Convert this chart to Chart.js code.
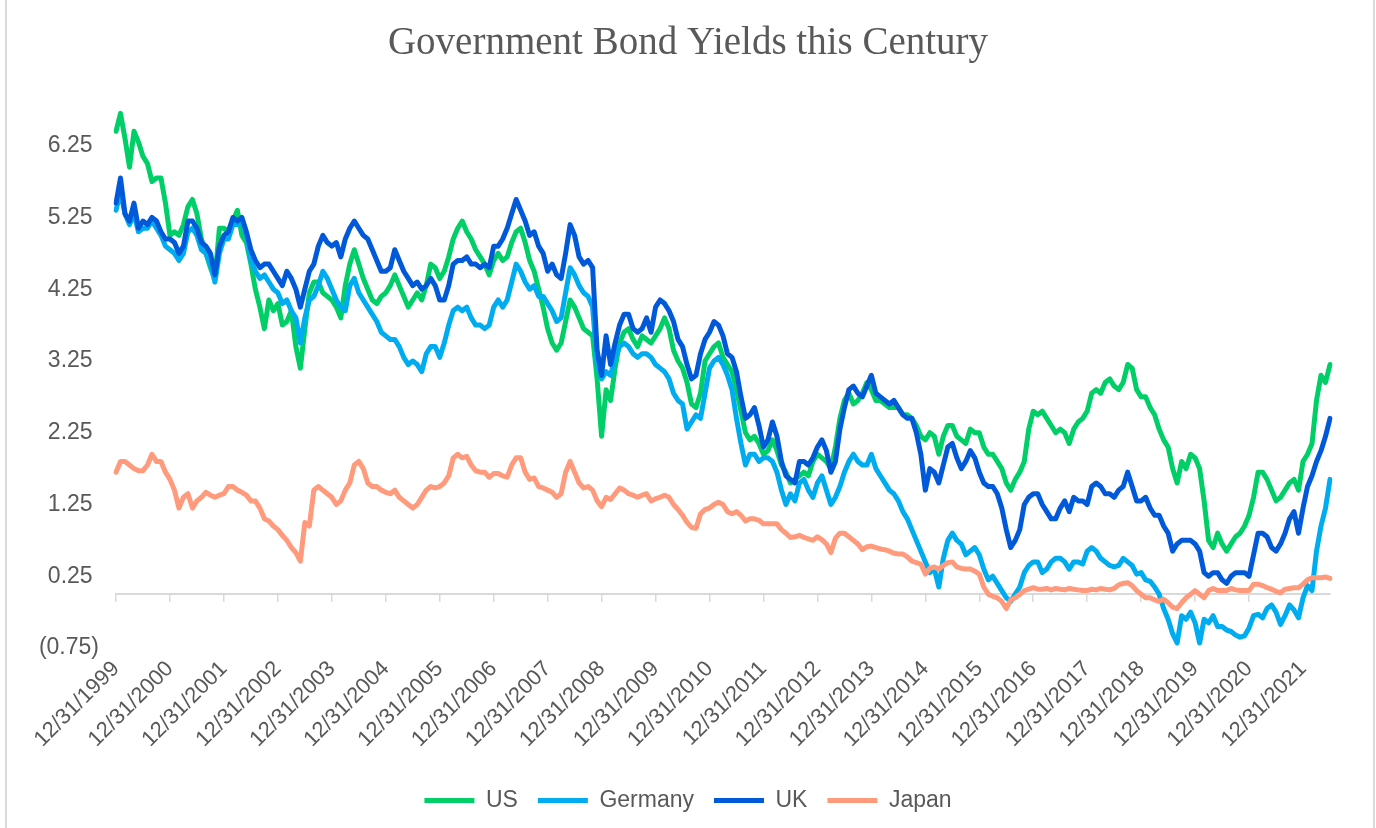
<!DOCTYPE html>
<html lang="en">
<head>
    <meta charset="UTF-8">
    <title>Government Bond Yields this Century</title>
    <style>
        body { margin: 0; background: #fff; }
        #wrap { position: relative; width: 1376px; height: 828px; }
        .edge { position: absolute; top: 0; bottom: 0; width: 2px; background: #d9d9d9; }
    </style>
</head>
<body>
<div id="wrap">
    <canvas id="myChart"></canvas>
    <div class="edge" style="left:5px"></div>
    <div class="edge" style="right:1px"></div>
</div>
<script src="https://cdn.jsdelivr.net/npm/chart.js"></script>
<script>
    // month-end values, 12/31/1999 .. 6/30/2022
    const us = [
        6.45, 6.7, 6.35, 5.95, 6.45, 6.3, 6.1, 6.0, 5.75, 5.8,
        5.8, 5.45, 5.0, 5.05, 5.0, 5.15, 5.4, 5.5, 5.3, 4.95,
        4.75, 4.55, 4.4, 5.1, 5.1, 5.05, 5.2, 5.35, 5.0, 4.9,
        4.6, 4.25, 4.0, 3.7, 4.1, 3.95, 4.05, 3.75, 3.8, 3.95,
        3.45, 3.15, 3.7, 4.2, 4.35, 4.35, 4.2, 4.15, 4.1, 4.0,
        3.85, 4.3, 4.6, 4.8, 4.6, 4.4, 4.25, 4.1, 4.05, 4.15,
        4.2, 4.3, 4.45, 4.3, 4.15, 4.0, 4.1, 4.2, 4.1, 4.3,
        4.6, 4.55, 4.4, 4.5, 4.7, 4.95, 5.1, 5.2, 5.05, 4.95,
        4.8, 4.7, 4.6, 4.45, 4.65, 4.75, 4.65, 4.7, 4.9, 5.05,
        5.1, 4.9, 4.65, 4.5, 4.25, 4.0, 3.7, 3.5, 3.4, 3.5,
        3.8, 4.1, 4.0, 3.85, 3.7, 3.65, 3.6, 3.0, 2.2, 2.85,
        2.7, 3.15, 3.5, 3.65, 3.7, 3.55, 3.45, 3.6, 3.55, 3.5,
        3.6, 3.7, 3.85, 3.7, 3.4, 3.25, 3.15, 2.95, 2.65, 2.6,
        2.8, 3.25, 3.35, 3.45, 3.5, 3.3, 3.2, 3.1, 2.85, 2.55,
        2.25, 2.15, 2.2, 2.1, 1.95, 2.0, 2.15, 2.0, 1.8, 1.7,
        1.55, 1.6, 1.65, 1.7, 1.65, 1.85, 1.95, 1.9, 1.85, 1.75,
        2.05, 2.45, 2.7, 2.8, 2.65, 2.7, 2.8, 2.95, 2.85, 2.7,
        2.7, 2.65, 2.6, 2.6, 2.6, 2.5, 2.5, 2.45, 2.35, 2.2,
        2.15, 2.25, 2.2, 1.95, 2.2, 2.35, 2.35, 2.2, 2.15, 2.1,
        2.3, 2.25, 2.25, 2.05, 1.95, 1.95, 1.85, 1.75, 1.55, 1.45,
        1.6, 1.7, 1.85, 2.3, 2.55, 2.5, 2.55, 2.45, 2.35, 2.25,
        2.3, 2.25, 2.1, 2.3, 2.4, 2.45, 2.55, 2.8, 2.85, 2.8,
        2.95, 3.0, 2.9, 2.85, 2.95, 3.2, 3.15, 2.85, 2.75, 2.75,
        2.6, 2.5, 2.3, 2.15, 2.05, 1.75, 1.55, 1.85, 1.75, 1.95,
        1.9, 1.75, 1.3, 0.75, 0.65, 0.85, 0.7, 0.6, 0.7, 0.8,
        0.85, 0.95, 1.1, 1.35, 1.7, 1.7, 1.6, 1.45, 1.3, 1.35,
        1.45, 1.55, 1.6, 1.45, 1.85, 1.95, 2.1, 2.7, 3.05, 2.95, 3.2
    ];
    const germany = [
        5.35, 5.6, 5.3, 5.15, 5.3, 5.05, 5.1, 5.1, 5.2, 5.1,
        5.0, 4.85, 4.8, 4.75, 4.65, 4.75, 5.05, 5.1, 5.0, 4.8,
        4.75, 4.6, 4.35, 4.75, 4.95, 4.95, 5.15, 5.15, 5.2, 5.0,
        4.65, 4.5, 4.4, 4.45, 4.35, 4.25, 4.2, 4.05, 4.1, 3.95,
        3.85, 3.5, 3.85, 4.1, 4.15, 4.3, 4.5, 4.4, 4.25, 4.1,
        4.0, 3.95, 4.3, 4.4, 4.2, 4.1, 4.0, 3.9, 3.8, 3.65,
        3.6, 3.55, 3.55, 3.45, 3.3, 3.2, 3.25, 3.2, 3.1, 3.35,
        3.45, 3.45, 3.3, 3.5, 3.75, 3.95, 4.0, 3.95, 4.0, 3.85,
        3.75, 3.75, 3.7, 3.75, 4.0, 4.1, 4.0, 4.1, 4.35, 4.6,
        4.5, 4.35, 4.25, 4.3, 4.15, 4.15, 4.05, 3.95, 3.8, 3.85,
        4.2, 4.55, 4.45, 4.3, 4.2, 4.15, 4.0, 3.2, 3.0, 3.1,
        3.05, 3.3, 3.45, 3.5, 3.45, 3.35, 3.3, 3.35, 3.35, 3.3,
        3.2, 3.15, 3.1, 3.0, 2.8, 2.7, 2.65, 2.3, 2.4, 2.5,
        2.45, 2.8, 3.15, 3.25, 3.3, 3.2, 3.05, 2.85, 2.45, 2.1,
        1.8, 1.95, 1.95, 1.85, 1.9, 1.9, 1.85, 1.7, 1.45, 1.25,
        1.4, 1.3, 1.55, 1.6, 1.45, 1.35, 1.55, 1.65, 1.45, 1.25,
        1.35, 1.5, 1.7, 1.85, 1.95, 1.85, 1.8, 1.8, 1.95, 1.75,
        1.65, 1.55, 1.45, 1.4, 1.3, 1.15, 1.05, 0.9, 0.75, 0.6,
        0.45, 0.3, 0.35, 0.1, 0.5, 0.75, 0.85, 0.75, 0.7, 0.55,
        0.6, 0.65, 0.55, 0.35, 0.2, 0.25, 0.15, 0.05, -0.05, -0.1,
        0.0, 0.1, 0.3, 0.4, 0.45, 0.45, 0.3, 0.35, 0.45, 0.5,
        0.5, 0.45, 0.35, 0.45, 0.45, 0.42, 0.6, 0.65, 0.6, 0.5,
        0.45, 0.4, 0.38, 0.4, 0.5, 0.45, 0.4, 0.28, 0.3, 0.2,
        0.18, 0.1, 0.0, -0.2, -0.35, -0.55, -0.68, -0.3, -0.35, -0.25,
        -0.4, -0.68, -0.35, -0.4, -0.3, -0.45, -0.45, -0.5, -0.52, -0.57,
        -0.6, -0.58, -0.47, -0.3, -0.28, -0.33, -0.2, -0.15, -0.25, -0.42,
        -0.3, -0.15, -0.22, -0.33, -0.05, 0.12, 0.05, 0.6, 0.95, 1.2, 1.6
    ];
    const uk = [
        5.45, 5.8, 5.3, 5.2, 5.45, 5.1, 5.2, 5.15, 5.25, 5.2,
        5.05, 4.95, 4.95, 4.9, 4.75, 4.85, 5.2, 5.2, 5.1, 4.9,
        4.85, 4.75, 4.45, 4.85, 5.0, 5.05, 5.25, 5.2, 5.25, 5.05,
        4.8, 4.65, 4.55, 4.6, 4.6, 4.5, 4.4, 4.3, 4.5, 4.4,
        4.25, 4.0, 4.25, 4.5, 4.6, 4.85, 5.0, 4.9, 4.85, 4.9,
        4.7, 4.95, 5.1, 5.2, 5.1, 5.0, 4.95, 4.8, 4.65, 4.5,
        4.5, 4.55, 4.8, 4.65, 4.5, 4.4, 4.3, 4.35, 4.25, 4.3,
        4.4, 4.3, 4.1, 4.1, 4.3, 4.6, 4.65, 4.65, 4.7, 4.6,
        4.6, 4.55, 4.6, 4.55, 4.85, 4.85, 4.95, 5.1, 5.3, 5.5,
        5.35, 5.2, 5.0, 5.05, 4.85, 4.75, 4.5, 4.6, 4.45, 4.4,
        4.75, 5.15, 5.0, 4.7, 4.6, 4.65, 4.55, 3.4, 3.05, 3.6,
        3.2, 3.5, 3.75, 3.9, 3.9, 3.7, 3.65, 3.7, 3.85, 3.65,
        4.0, 4.1, 4.05, 3.95, 3.8, 3.55, 3.45, 3.2, 3.0, 3.05,
        3.35, 3.55, 3.65, 3.8, 3.75, 3.6, 3.35, 3.3, 3.1, 2.75,
        2.45, 2.5, 2.6, 2.35, 2.05, 2.15, 2.4, 2.2, 1.85, 1.65,
        1.6, 1.55, 1.85, 1.85, 1.8, 1.9, 2.05, 2.15, 2.0, 1.7,
        1.85, 2.3, 2.6, 2.85, 2.9, 2.8, 2.75, 2.9, 3.05, 2.8,
        2.75, 2.7, 2.65, 2.7, 2.6, 2.5, 2.45, 2.45, 2.25, 1.95,
        1.45, 1.75, 1.7, 1.55, 1.8, 2.05, 2.1, 1.9, 1.75, 1.85,
        2.0, 1.9, 1.7, 1.55, 1.5, 1.5, 1.4, 1.2, 0.9, 0.65,
        0.75, 0.9, 1.25, 1.35, 1.4, 1.4, 1.25, 1.15, 1.05, 1.05,
        1.2, 1.3, 1.15, 1.35, 1.3, 1.3, 1.25, 1.5, 1.55, 1.5,
        1.4, 1.4, 1.35, 1.45, 1.5, 1.7, 1.5, 1.3, 1.3, 1.35,
        1.2, 1.1, 1.1, 0.95, 0.85, 0.6, 0.7, 0.75, 0.75, 0.75,
        0.7, 0.6, 0.3, 0.25, 0.3, 0.3, 0.2, 0.15, 0.25, 0.3,
        0.3, 0.3, 0.25, 0.55, 0.85, 0.85, 0.8, 0.65, 0.6, 0.7,
        0.85, 1.05, 1.15, 0.85, 1.2, 1.5, 1.65, 1.85, 2.0, 2.2, 2.45
    ];
    const japan = [
        1.7, 1.85, 1.85, 1.8, 1.75, 1.72, 1.72, 1.8, 1.95, 1.85,
        1.85, 1.7, 1.6, 1.45, 1.2, 1.35, 1.4, 1.2, 1.3, 1.35,
        1.42, 1.38, 1.35, 1.38, 1.4, 1.5, 1.5, 1.45, 1.42, 1.38,
        1.3, 1.3, 1.2, 1.05, 1.02, 0.95, 0.9, 0.82, 0.75, 0.65,
        0.58, 0.46, 1.0, 0.95, 1.45, 1.5, 1.45, 1.4, 1.35, 1.25,
        1.3, 1.45, 1.55, 1.8, 1.85, 1.75, 1.55, 1.5, 1.5, 1.45,
        1.42, 1.4, 1.45, 1.35, 1.3, 1.25, 1.2, 1.25, 1.35, 1.45,
        1.5, 1.48, 1.5, 1.55, 1.65, 1.9, 1.95, 1.9, 1.92, 1.8,
        1.72, 1.7, 1.7, 1.63, 1.68, 1.68, 1.65, 1.63, 1.8, 1.9,
        1.9, 1.7, 1.6, 1.62, 1.5, 1.48, 1.45, 1.42, 1.35, 1.4,
        1.7, 1.85, 1.7, 1.55, 1.48, 1.5, 1.45, 1.3, 1.22, 1.35,
        1.32, 1.4, 1.48, 1.45, 1.4, 1.38, 1.35, 1.38, 1.4, 1.3,
        1.33, 1.35, 1.38, 1.35, 1.25, 1.18, 1.1, 1.0, 0.93, 0.92,
        1.12, 1.18, 1.2, 1.25, 1.28, 1.25, 1.15, 1.12, 1.15, 1.1,
        1.02, 1.05, 1.05, 1.03, 0.98, 0.98, 0.98, 0.98, 0.9, 0.85,
        0.79, 0.8, 0.82, 0.79, 0.77, 0.75, 0.8, 0.76, 0.7, 0.58,
        0.78, 0.85, 0.85, 0.8, 0.75, 0.7, 0.62, 0.66, 0.67, 0.65,
        0.63, 0.62, 0.6, 0.57, 0.56, 0.56, 0.52, 0.46, 0.44, 0.42,
        0.28, 0.36, 0.38, 0.35, 0.4, 0.44, 0.45, 0.38, 0.36, 0.35,
        0.35, 0.32, 0.28, 0.1, 0.0, -0.03, -0.05, -0.1, -0.2, -0.08,
        -0.05, 0.0, 0.05, 0.07, 0.09, 0.07, 0.07, 0.08, 0.06, 0.08,
        0.07, 0.06, 0.08, 0.07, 0.06, 0.05, 0.05, 0.07, 0.06, 0.08,
        0.07, 0.06, 0.08, 0.13, 0.15, 0.16, 0.12, 0.05, 0.0, -0.05,
        -0.05, -0.08, -0.1, -0.07, -0.12, -0.18, -0.2, -0.12, -0.05, 0.0,
        0.05, 0.0, -0.05, 0.05, 0.08, 0.05, 0.05, 0.05, 0.08, 0.06,
        0.05, 0.05, 0.05, 0.14, 0.14, 0.12, 0.09, 0.07, 0.04, 0.02,
        0.07, 0.08, 0.09, 0.09, 0.14, 0.2, 0.23, 0.23, 0.23, 0.24, 0.22
    ];
    const yTicks = [-0.75, 0.25, 1.25, 2.25, 3.25, 4.25, 5.25, 6.25];

    // month-end date labels
    const labels = [];
    for (let i = 0; i < us.length; i++) {
        const d = new Date(1999, 12 + i, 0);
        labels.push((d.getMonth() + 1) + '/' + d.getDate() + '/' + d.getFullYear());
    }
    const isYearEnd = i => labels[i].startsWith('12/');

    const grey = '#595959';
    const sans = "'Liberation Sans', Arial, sans-serif";

    const series = (label, data, color, order) => ({
        label: label,
        data: data,
        borderColor: color,
        backgroundColor: color,
        borderWidth: 5,
        borderCapStyle: 'round',
        borderJoinStyle: 'round',
        pointRadius: 0,
        tension: 0,
        order: order
    });

    new Chart(document.getElementById('myChart'), {
        type: 'line',
        data: {
            labels: labels,
            datasets: [
                series('US', us, '#00cf68', 3),
                series('Germany', germany, '#00acf0', 2),
                series('UK', uk, '#0059d9', 1),
                series('Japan', japan, '#ff9a7c', 0)
            ]
        },
        options: {
            responsive: true,
            maintainAspectRatio: false,
            animation: false,
            layout: {padding: {left: 0, right: 0, top: 0, bottom: 6}},
            scales: {
                x: {
                    grid: {display: false},
                    border: {display: false},
                    ticks: {
                        autoSkip: false,
                        minRotation: 45,
                        maxRotation: 45,
                        padding: 0,
                        color: grey,
                        font: {family: sans, size: 22},
                        callback: function (value, index) {
                            return isYearEnd(index) ? labels[index] : '';
                        }
                    },
                    afterFit: s => { s.height = 121; }
                },
                x2: {
                    type: 'category',
                    position: {y: 0},
                    grid: {
                        drawOnChartArea: false,
                        drawTicks: true,
                        tickLength: 7,
                        lineWidth: 1.5,
                        color: ctx => isYearEnd(ctx.index) ? '#d9d9d9' : 'rgba(0,0,0,0)'
                    },
                    border: {display: true, color: '#d9d9d9', width: 2},
                    ticks: {autoSkip: false, display: false}
                },
                y: {
                    min: -0.75,
                    max: 6.75,
                    grid: {display: false},
                    border: {display: false},
                    afterBuildTicks: s => { s.ticks = yTicks.map(v => ({value: v})); },
                    afterFit: s => { s.width = 116; },
                    ticks: {
                        padding: 9,
                        color: grey,
                        font: {family: sans, size: 23},
                        callback: v => v < 0 ? '(' + Math.abs(v).toFixed(2) + ')' : v.toFixed(2) + ' '
                    }
                },
                // empty right-hand gutter so the legend centres on the whole canvas
                yRight: {
                    position: 'right',
                    grid: {display: false},
                    border: {display: false},
                    ticks: {display: false},
                    afterFit: s => { s.width = 46; }
                }
            },
            plugins: {
                title: {
                    display: true,
                    text: 'Government Bond Yields this Century',
                    color: grey,
                    font: {family: "'Liberation Serif', 'Times New Roman', serif", size: 39, weight: 'normal'},
                    padding: {top: 20, bottom: 43}
                },
                legend: {
                    position: 'bottom',
                    labels: {
                        usePointStyle: true,
                        pointStyle: 'line',
                        pointStyleWidth: 50,
                        padding: 20,
                        color: grey,
                        font: {family: sans, size: 23},
                        sort: (a, b) => a.datasetIndex - b.datasetIndex
                    }
                },
                tooltip: {enabled: false}
            }
        }
    });
</script>
</body>
</html>
